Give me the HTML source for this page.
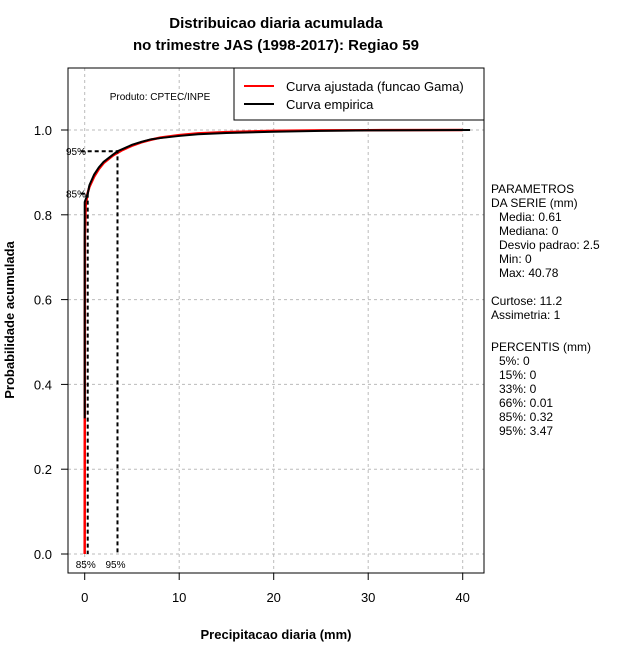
<!DOCTYPE html>
<html><head><meta charset="utf-8"><style>
body{margin:0;background:#fff;font-family:"Liberation Sans",sans-serif;}
svg text{font-family:"Liberation Sans",sans-serif;}
</style></head><body>
<svg width="640" height="660" xmlns="http://www.w3.org/2000/svg">
<text x="276" y="28" text-anchor="middle" font-size="15" font-weight="bold">Distribuicao diaria acumulada</text>
<text x="276" y="50" text-anchor="middle" font-size="15" font-weight="bold">no trimestre JAS (1998-2017): Regiao 59</text>
<g id="grid"></g>
<g id="marks"></g>
<g id="axes"></g>
<rect x="68" y="68" width="416" height="505" fill="none" stroke="#000"/>
<text x="160" y="100" text-anchor="middle" font-size="10">Produto: CPTEC/INPE</text>
<g>
<rect x="234" y="68" width="250" height="52" fill="#fff" stroke="#000"/>
<line x1="244" y1="86" x2="274" y2="86" stroke="red" stroke-width="2"/>
<text x="286" y="91" font-size="13">Curva ajustada (funcao Gama)</text>
<line x1="244" y1="104" x2="274" y2="104" stroke="#000" stroke-width="2"/>
<text x="286" y="109" font-size="13">Curva empirica</text>
</g>
<text x="276" y="639" text-anchor="middle" font-size="13" font-weight="bold">Precipitacao diaria (mm)</text>
<text transform="translate(14,320) rotate(-90)" text-anchor="middle" font-size="13" font-weight="bold">Probabilidade acumulada</text>
<g font-size="12">
<text x="491" y="193">PARAMETROS</text>
<text x="491" y="207">DA SERIE (mm)</text>
<text x="499" y="221">Media: 0.61</text>
<text x="499" y="235">Mediana: 0</text>
<text x="499" y="249">Desvio padrao: 2.5</text>
<text x="499" y="263">Min: 0</text>
<text x="499" y="277">Max: 40.78</text>
<text x="491" y="305">Curtose: 11.2</text>
<text x="491" y="319">Assimetria: 1</text>
<text x="491" y="351">PERCENTIS (mm)</text>
<text x="499" y="365">5%: 0</text>
<text x="499" y="379">15%: 0</text>
<text x="499" y="393">33%: 0</text>
<text x="499" y="407">66%: 0.01</text>
<text x="499" y="421">85%: 0.32</text>
<text x="499" y="435">95%: 3.47</text>
</g>
</svg>
<script>
const xTicks=[0,10,20,30,40];
const yTicks=[0,0.2,0.4,0.6,0.8,1.0];
const empX=[0,0,0.32,0.5,1,1.5,2,3,3.47,4,5,6,7,8,10,12,15,20,25,30,40.78];
const empY=[0.32,0.83,0.85,0.87,0.895,0.912,0.925,0.942,0.95,0.955,0.965,0.972,0.978,0.981,0.986,0.99,0.993,0.996,0.998,0.999,1.0];
const gamX=[0,0.02,0.1,0.3,0.5,1,1.5,2,3,4,5,6,7,8,10,12,15,20,25,30,40];
const gamY=[0,0.75,0.82,0.85,0.866,0.89,0.908,0.922,0.94,0.953,0.963,0.971,0.977,0.982,0.988,0.992,0.995,0.998,0.999,0.9995,1.0];
const pctVals=[0.32,3.47];
const pctProbs=[0.85,0.95];
const pctLabels=["85%","95%"];
const sx=v=>84.7+v*9.45;
const sy=v=>554-v*424;
const NS="http://www.w3.org/2000/svg";
const mk=(t,a,p)=>{const e=document.createElementNS(NS,t);for(const k in a)e.setAttribute(k,a[k]);p.appendChild(e);return e;};
const grid=document.getElementById('grid'),axes=document.getElementById('axes'),marks=document.getElementById('marks');
xTicks.forEach(t=>{
 const g=mk('line',{x1:sx(t),x2:sx(t),y1:68,y2:573,stroke:'#bbb','stroke-dasharray':'3,3'},grid);
 
 
 const l=mk('line',{x1:sx(t),x2:sx(t),y1:573,y2:580,stroke:'#000'},axes);
 
 
 const tx=mk('text',{x:sx(t),y:602,'text-anchor':'middle','font-size':13},axes);tx.textContent=t;
 
 
});
yTicks.forEach(t=>{
 const g=mk('line',{x1:68,x2:484,y1:sy(t),y2:sy(t),stroke:'#bbb','stroke-dasharray':'3,3'},grid);
 
 
 const l=mk('line',{x1:61,x2:68,y1:sy(t),y2:sy(t),stroke:'#000'},axes);
 
 
 const tx=mk('text',{x:52,y:sy(t)+5,'text-anchor':'end','font-size':13},axes);tx.textContent=t.toFixed(1);
 
 
});
const gp=mk('polyline',{points:gamX.map((x,i)=>sx(x)+','+sy(gamY[i])).join(' '),fill:'none',stroke:'red','stroke-width':2.5},marks);


const ep=mk('polyline',{points:empX.map((x,i)=>sx(x)+','+sy(empY[i])).join(' '),fill:'none',stroke:'#000','stroke-width':2},marks);


pctVals.forEach((v,i)=>{
 const a=mk('path',{d:`M${sx(0)-4},${sy(pctProbs[i])}H${sx(v)}V${sy(0)}`,fill:'none',stroke:'#000','stroke-width':2,'stroke-dasharray':'4,3'},marks);
 
 
 const t1=mk('text',{x:66,y:sy(pctProbs[i])+4,'font-size':10},marks);t1.textContent=pctLabels[i];
 
 
 const t2=mk('text',{x:sx(v)-2,y:568,'text-anchor':'middle','font-size':10},marks);t2.textContent=pctLabels[i];
 
 
});
</script>
</body></html>
